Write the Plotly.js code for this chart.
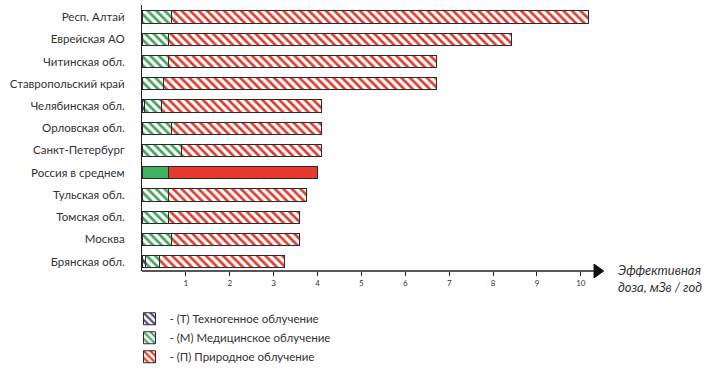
<!DOCTYPE html>
<html><head><meta charset="utf-8">
<script src="https://cdn.plot.ly/plotly-3.0.1.min.js"></script>
<style>html,body{margin:0;padding:0;background:#fff;}#chart{width:727px;height:377px;}</style>
</head><body><div id="chart"></div>
<script>
const regions = ["Респ. Алтай","Еврейская АО","Читинская обл.","Ставропольский край","Челябинская обл.","Орловская обл.","Санкт-Петербург","Россия в среднем","Тульская обл.","Томская обл.","Москва","Брянская обл."];
const technogenic = [0,0,0,0,0.05,0,0,0,0,0,0,0.08];
const medical     = [0.67,0.6,0.6,0.48,0.39,0.67,0.9,0.6,0.6,0.6,0.67,0.32];
const natural     = [9.5,7.82,6.1,6.22,3.65,3.42,3.19,3.4,3.15,3.0,2.93,2.85];
const xTicks = [1,2,3,4,5,6,7,8,9,10];
const legendNames = ["- (Т) Техногенное облучение","- (М) Медицинское облучение","- (П) Природное облучение"];
const averageLabel = "Россия в среднем";

const FONT = "Lato, 'Open Sans', sans-serif";
const shapeArr = regions.map(r => r === averageLabel ? "" : "\\");
const line = {color:"#2a2a2a", width:1};

function mk(name, vals, fg, solid, bg){
  return {
    type:"bar", orientation:"h", name:name, y:regions, x:vals,
    marker:{
      color: regions.map(r => r === averageLabel ? solid : fg),
      line: line,
      pattern:{shape: shapeArr, fgcolor: fg, bgcolor: bg, size:6, solidity:0.45}
    },
    width:0.55, hoverinfo:"x+name"
  };
}

const data = [
  mk(legendNames[0], technogenic, "#4b3d78", "#4b3d78", "#ffffff"),
  mk(legendNames[1], medical, "#43a35a", "#3fb05e", "#ffffff"),
  mk(legendNames[2], natural, "#df3b2e", "#e8392c", "#fff8ee")
];

const layout = {
  width:727, height:377,
  margin:{l:142, r:122, t:5, b:106},
  barmode:"stack",
  paper_bgcolor:"#fff", plot_bgcolor:"#fff",
  font:{family:FONT, color:"#333"},
  xaxis:{range:[0,10.55], tickvals:xTicks, ticktext:xTicks.map(String), showgrid:false, zeroline:false,
    showline:false, ticks:"outside", ticklen:4, tickcolor:"#222", tickfont:{size:8, color:"#333"}, fixedrange:true},
  yaxis:{categoryorder:"array", categoryarray:regions, range:[11.42,-0.54], showgrid:false, zeroline:false,
    showline:true, linecolor:"#222", linewidth:1, ticks:"", tickfont:{size:11.5, color:"#333"}, ticklabelstandoff:14},
  showlegend:true,
  legend:{x:-0.027, xanchor:"left", y:-0.125, yanchor:"top", orientation:"v", traceorder:"normal",
    font:{size:11.5, color:"#333"}, itemwidth:30, bgcolor:"rgba(0,0,0,0)"},
  shapes:[
    {type:"line", xref:"x", yref:"paper", x0:0, x1:10.35, y0:0, y1:0, line:{color:"#222", width:1.5}},
    {type:"path", xref:"x", yref:"paper", path:"M 10.3 -0.026 L 10.52 0 L 10.3 0.026 Z", fillcolor:"#111", line:{color:"#111", width:1}}
  ],
  annotations:[
    {xref:"paper", yref:"paper", x:1.024, y:-0.03, xanchor:"left", yanchor:"middle", align:"left", showarrow:false,
     text:"<i>Эффективная<br>доза, мЗв / год</i>", font:{size:13, color:"#333", family:FONT}}
  ]
};

Plotly.newPlot("chart", data, layout, {displayModeBar:false, staticPlot:true});
</script></body></html>
